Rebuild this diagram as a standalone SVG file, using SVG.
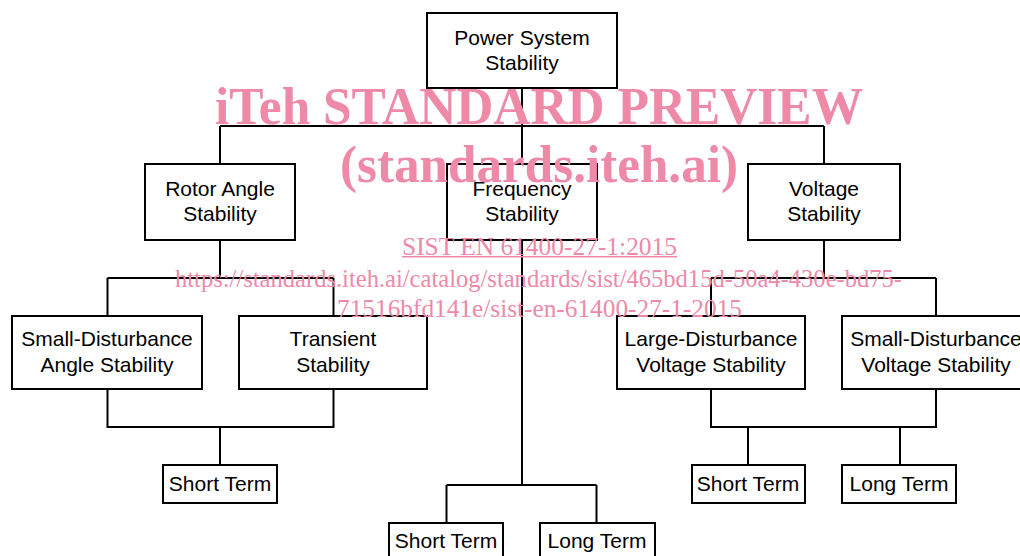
<svg xmlns="http://www.w3.org/2000/svg" width="1020" height="556" viewBox="0 0 1020 556">
<style>
.box{fill:#fff;stroke:#000;stroke-width:2}
.lbl{font-family:"Liberation Sans",Arial,sans-serif;font-size:21px;fill:#000;text-anchor:middle}
.conn{fill:none;stroke:#000;stroke-width:2}
.wm{font-family:"Liberation Serif","Times New Roman",serif;fill:#ee8aa8}
.wmb{font-weight:bold;font-size:52px}
.wms{font-size:25px}
</style>
<rect width="1020" height="556" fill="#fff"/>
<g id="connectors" class="conn">
<path d="M522,88V126M220,126H824M220,126V164M522,126V164M824,126V164"/>
<path d="M220,240V278M107.5,278H333.5M107.5,278V316M333.5,278V316"/>
<path d="M107.5,389V427H333.5V389M220,427V465"/>
<path d="M522,240V485M446.5,485H596.5M446.5,485V523M596.5,485V523"/>
<path d="M824,240V278M711,278H936M711,278V316M936,278V316"/>
<path d="M711,389V427H936V389M748,427V465M900,427V465"/>
</g>
<g id="power-system-stability"><rect class="box" x="427" y="13" width="190" height="75"/><text class="lbl" x="522" y="45">Power System</text><text class="lbl" x="522" y="70">Stability</text></g>
<g id="rotor-angle-stability"><rect class="box" x="145" y="164" width="150" height="76"/><text class="lbl" x="220" y="196">Rotor Angle</text><text class="lbl" x="220" y="221">Stability</text></g>
<g id="frequency-stability"><rect class="box" x="447" y="164" width="150" height="76"/><text class="lbl" x="522" y="196">Frequency</text><text class="lbl" x="522" y="221">Stability</text></g>
<g id="voltage-stability"><rect class="box" x="748" y="164" width="152" height="76"/><text class="lbl" x="824" y="196">Voltage</text><text class="lbl" x="824" y="221">Stability</text></g>
<g id="small-disturbance-angle"><rect class="box" x="12" y="316" width="190" height="73"/><text class="lbl" x="107" y="346">Small-Disturbance</text><text class="lbl" x="107" y="372">Angle Stability</text></g>
<g id="transient-stability"><rect class="box" x="239" y="316" width="188" height="73"/><text class="lbl" x="333" y="346">Transient</text><text class="lbl" x="333" y="372">Stability</text></g>
<g id="large-disturbance-voltage"><rect class="box" x="617" y="316" width="188" height="73"/><text class="lbl" x="711" y="346">Large-Disturbance</text><text class="lbl" x="711" y="372">Voltage Stability</text></g>
<g id="small-disturbance-voltage"><rect class="box" x="842" y="316" width="188" height="73"/><text class="lbl" x="936" y="346">Small-Disturbance</text><text class="lbl" x="936" y="372">Voltage Stability</text></g>
<g id="angle-short-term"><rect class="box" x="163" y="465" width="114" height="38"/><text class="lbl" x="220" y="491">Short Term</text></g>
<g id="frequency-short-term"><rect class="box" x="389" y="523" width="114" height="38"/><text class="lbl" x="446" y="548">Short Term</text></g>
<g id="frequency-long-term"><rect class="box" x="540" y="523" width="115" height="38"/><text class="lbl" x="597" y="548">Long Term</text></g>
<g id="voltage-short-term"><rect class="box" x="692" y="465" width="113" height="38"/><text class="lbl" x="748" y="491">Short Term</text></g>
<g id="voltage-long-term"><rect class="box" x="842" y="465" width="114" height="38"/><text class="lbl" x="899" y="491">Long Term</text></g>
<g id="watermark" class="wm">
<text class="wmb" x="215" y="124" textLength="648" lengthAdjust="spacingAndGlyphs">iTeh STANDARD PREVIEW</text>
<text class="wmb" x="340" y="182" textLength="398" lengthAdjust="spacingAndGlyphs">(standards.iteh.ai)</text>
<text class="wms" x="402" y="255" textLength="275" lengthAdjust="spacingAndGlyphs">SIST EN 61400-27-1:2015</text>
<rect x="402" y="256" width="275" height="1.5" fill="#ee8aa8"/>
<text class="wms" x="175" y="287" textLength="727" lengthAdjust="spacingAndGlyphs">https://standards.iteh.ai/catalog/standards/sist/465bd15d-50a4-430e-bd75-</text>
<text class="wms" x="337" y="317" textLength="405" lengthAdjust="spacingAndGlyphs">71516bfd141e/sist-en-61400-27-1-2015</text>
</g>
</svg>
